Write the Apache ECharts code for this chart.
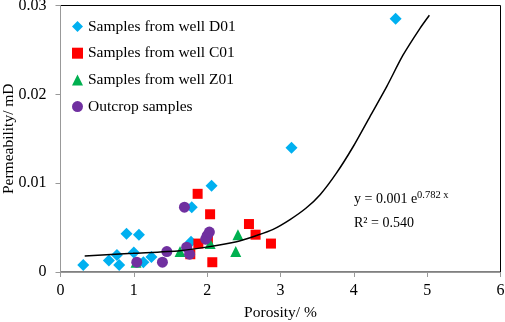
<!DOCTYPE html>
<html>
<head>
<meta charset="utf-8">
<script src="https://cdn.jsdelivr.net/npm/echarts@6/dist/echarts.min.js"></script>
<style>
html,body{margin:0;padding:0;background:#fff;}
#chart{width:505px;height:322px;}
</style>
</head>
<body>
<div id="chart"></div>
<script>
// Tick values
var xTicks = [0, 1, 2, 3, 4, 5, 6];
var yTicks = [0, 0.01, 0.02, 0.03];

// Samples from well D01
var d01X = [0.31, 0.66, 0.80, 0.77, 0.90, 1.07, 1.00, 1.13, 1.24, 2.06, 1.79, 1.78, 3.15, 4.57];
var d01Y = [0.0008, 0.0013, 0.0008, 0.0019, 0.0043, 0.0042, 0.0022, 0.0011, 0.0017, 0.0097, 0.0073, 0.0034, 0.0140, 0.0285];

// Samples from well C01
var c01X = [1.87, 2.04, 2.07, 1.88, 2.01, 1.77, 2.57, 2.66, 2.87];
var c01Y = [0.0088, 0.0065, 0.0011, 0.0032, 0.0037, 0.0020, 0.0054, 0.0042, 0.0032];

// Samples from well Z01
var z01X = [1.03, 1.63, 2.04, 2.42, 2.39];
var z01Y = [0.0011, 0.0023, 0.0032, 0.0042, 0.0023];

// Outcrop samples
var outX = [1.04, 1.39, 1.45, 1.69, 1.72, 1.76, 1.98, 2.00, 2.03];
var outY = [0.0011, 0.0011, 0.0023, 0.0073, 0.0028, 0.0020, 0.0037, 0.0041, 0.0045];

// Trend curve
var fitX = [0.33, 0.99, 1.63, 1.99, 2.40, 2.67, 2.90, 3.13, 3.35, 3.54, 3.76, 3.99, 4.22, 4.45, 4.67, 4.90, 5.03];
var fitY = [0.0018, 0.0021, 0.0024, 0.0028, 0.0034, 0.0041, 0.0048, 0.0059, 0.0072, 0.0087, 0.0111, 0.0141, 0.0175, 0.0209, 0.0244, 0.0274, 0.0289];

var seriesNames = ['Samples from well D01', 'Samples from well C01', 'Samples from well Z01', 'Outcrop samples'];
var equationText = 'y = 0.001 e';
var exponentText = '0.782 x';
var r2Text = 'R² = 0.540';

function pairs(xs, ys) { return xs.map(function (x, i) { return [x, ys[i]]; }); }

var FONT = 'Liberation Serif, Times New Roman, serif';
var chart = echarts.init(document.getElementById('chart'), null, {renderer: 'canvas'});
chart.setOption({
  animation: false,
  backgroundColor: '#fff',
  textStyle: {fontFamily: FONT},
  grid: {left: 60.5, right: 4.5, top: 5.5, bottom: 50, show: true, borderColor: '#000', borderWidth: 1,
         containLabel: false, outerBoundsMode: 'none'},
  legend: {
    orient: 'vertical', left: 67, top: 13.5, itemWidth: 11, itemHeight: 11, itemGap: 10.7,
    selectedMode: false,
    textStyle: {fontFamily: FONT, fontSize: 15.5, color: '#000', lineHeight: 16},
    data: [
      {name: seriesNames[0], icon: 'diamond'},
      {name: seriesNames[1], icon: 'rect'},
      {name: seriesNames[2], icon: 'triangle'},
      {name: seriesNames[3], icon: 'circle'}
    ]
  },
  xAxis: {
    type: 'value', min: xTicks[0], max: xTicks[xTicks.length - 1], interval: 1,
    name: 'Porosity/ %', nameLocation: 'middle', nameGap: 33, nameMoveOverlap: false,
    nameTextStyle: {fontFamily: FONT, fontSize: 15.5, color: '#000'},
    axisLine: {show: true, lineStyle: {color: '#999', width: 1}},
    axisTick: {show: true, length: 5, lineStyle: {color: '#999'}},
    axisLabel: {fontFamily: FONT, fontSize: 16, color: '#000', margin: 11},
    splitLine: {show: false}
  },
  yAxis: {
    type: 'value', min: yTicks[0], max: yTicks[yTicks.length - 1], interval: 0.01,
    name: 'Permeability/ mD', nameLocation: 'middle', nameGap: 44, nameRotate: 90, nameMoveOverlap: false,
    nameTextStyle: {fontFamily: FONT, fontSize: 15.5, color: '#000'},
    axisLine: {show: true, lineStyle: {color: '#999', width: 1}},
    axisTick: {show: true, length: 5, lineStyle: {color: '#999'}},
    axisLabel: {fontFamily: FONT, fontSize: 16, color: '#000', margin: 14},
    splitLine: {show: false}
  },
  series: [
    {name: seriesNames[0], type: 'scatter', symbol: 'diamond', symbolSize: 12, itemStyle: {color: '#00B0F0', opacity: 1}, data: pairs(d01X, d01Y), z: 2},
    {name: seriesNames[1], type: 'scatter', symbol: 'rect', symbolSize: 10, itemStyle: {color: '#FF0000', opacity: 1}, data: pairs(c01X, c01Y), z: 3},
    {name: seriesNames[2], type: 'scatter', symbol: 'triangle', symbolSize: 11, itemStyle: {color: '#00B050', opacity: 1}, data: pairs(z01X, z01Y), z: 4},
    {name: seriesNames[3], type: 'scatter', symbol: 'circle', symbolSize: 11, itemStyle: {color: '#7030A0', opacity: 1}, data: pairs(outX, outY), z: 5},
    {name: 'fit', type: 'line', smooth: 0.25, showSymbol: false, lineStyle: {color: '#000', width: 1.5}, data: pairs(fitX, fitY), z: 6}
  ],
  graphic: [
    {type: 'text', left: 354, top: 192, style: {text: equationText, font: '14px ' + FONT, fill: '#000'}},
    {type: 'text', left: 417, top: 189.5, style: {text: exponentText, font: '10.5px ' + FONT, fill: '#000'}},
    {type: 'text', left: 354, top: 216, style: {text: r2Text, font: '14px ' + FONT, fill: '#000'}}
  ]
});
</script>
</body>
</html>
